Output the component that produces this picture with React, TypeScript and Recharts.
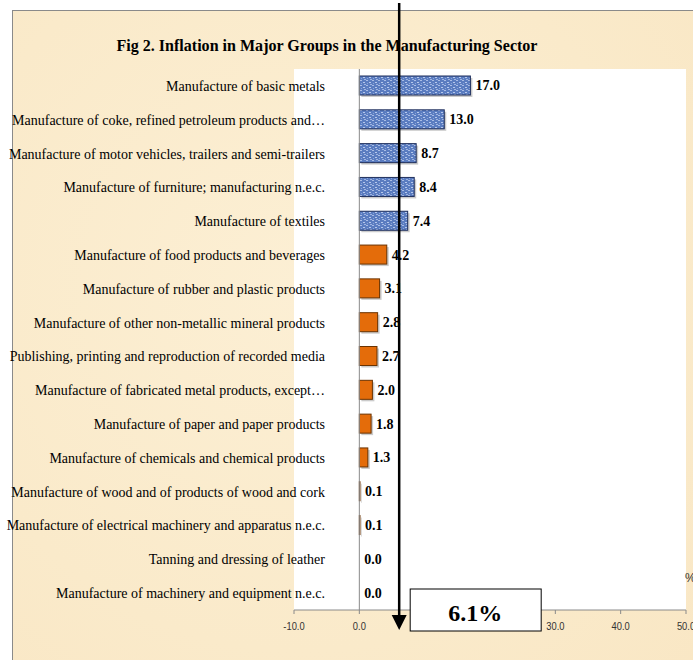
import React from 'react'
import {
  BarChart, Bar, XAxis, YAxis, CartesianGrid, ReferenceLine, LabelList,
} from 'recharts'

const categories = [
  'Manufacture of basic metals',
  'Manufacture of coke, refined petroleum products and…',
  'Manufacture of motor vehicles, trailers and semi-trailers',
  'Manufacture of furniture; manufacturing n.e.c.',
  'Manufacture of textiles',
  'Manufacture of food products and beverages',
  'Manufacture of rubber and plastic products',
  'Manufacture of other non-metallic mineral products',
  'Publishing, printing and reproduction of recorded media',
  'Manufacture of fabricated metal products, except…',
  'Manufacture of paper and paper products',
  'Manufacture of chemicals and chemical products',
  'Manufacture of wood and of products of wood and cork',
  'Manufacture of electrical machinery and apparatus n.e.c.',
  'Tanning and dressing of leather',
  'Manufacture of machinery and equipment n.e.c.',
]
const values = [17.0, 13.0, 8.7, 8.4, 7.4, 4.2, 3.1, 2.8, 2.7, 2.0, 1.8, 1.3, 0.1, 0.1, 0.0, 0.0]
// above-average groups are blue, the rest orange
const aboveAverage = [true, true, true, true, true, false, false, false, false, false, false, false, false, false, false, false]
const xTicks = [-10, 0, 10, 20, 30, 40, 50]
const average = 6.1
const title = 'Fig 2. Inflation in Major Groups in the Manufacturing Sector'

const data = categories.map((name, i) => ({ name, value: values[i], high: aboveAverage[i] }))

const serif = "'Liberation Serif', 'Times New Roman', serif"
const narrow = "'Liberation Sans Narrow', 'Liberation Sans', Arial, sans-serif"

function CatTick(props: any) {
  const { x, y, payload } = props
  return (
    <text x={x + 31} y={y} textAnchor="end" dy={5} fontFamily={serif} fontSize={14} fill="#000">
      {payload.value}
    </text>
  )
}

function NumTick(props: any) {
  const { x, y, payload } = props
  return (
    <g transform={`translate(${x},${y})`}>
      <text transform="scale(0.85,1)" textAnchor="middle" dy={14} fontFamily={narrow} fontSize={11} fill="#333">
        {payload.value.toFixed(1)}
      </text>
    </g>
  )
}

function BarShape(props: any) {
  const { x, y, width, height, payload } = props
  if (!width || width <= 0) return <g />
  const hi = payload.high
  return (
    <g>
      <rect x={x + 2} y={y + 2} width={width} height={height} fill="#a0a0a0" opacity={0.55} />
      <rect
        x={x} y={y} width={width} height={height}
        fill={hi ? 'url(#blueTex)' : '#E46C0A'}
        stroke={hi ? '#1f2f5c' : '#6b3300'}
        strokeWidth={1}
      />
    </g>
  )
}

function AverageArrow(props: any) {
  const { x1, y1, y2 } = props
  const x = x1
  const plotTop = Math.min(y1, y2)
  const plotBottom = Math.max(y1, y2)
  const top = plotTop - 66
  const tip = plotBottom + 20
  return (
    <g>
      <line x1={x} y1={top} x2={x} y2={tip - 14} stroke="#000" strokeWidth={2.5} />
      <polygon points={`${x - 7.5},${tip - 15} ${x + 7.5},${tip - 15} ${x},${tip}`} fill="#000" />
      <rect x={x + 11} y={plotBottom - 21} width={131} height={42} fill="#fff" stroke="#000" strokeWidth={1} />
      <text x={x + 76} y={plotBottom + 11} textAnchor="middle" fontFamily={serif} fontWeight="bold" fontSize={24} fill="#000">
        {average.toFixed(1)}%
      </text>
    </g>
  )
}

export default function App() {
  return (
    <div style={{ position: 'absolute', left: 0, top: 0, width: 693, height: 660, background: '#fff', overflow: 'hidden' }}>
      <svg width={0} height={0} style={{ position: 'absolute' }}>
        <defs>
          <pattern id="blueTex" width={6} height={5} patternUnits="userSpaceOnUse">
            <rect width={6} height={5} fill="#5a7cc0" />
            <rect x={0} y={0} width={2} height={1} fill="#a9bde6" />
            <rect x={3} y={2} width={2} height={1} fill="#b6c8ec" />
            <rect x={1} y={3} width={1} height={1} fill="#8aa4d8" />
            <rect x={4} y={4} width={2} height={1} fill="#9fb4e2" />
          </pattern>
        </defs>
      </svg>
      {/* parchment frame */}
      <div style={{
        position: 'absolute', left: 12, top: 10, width: 720, height: 700,
        border: '1px solid #8a8a8a', boxSizing: 'border-box',
        background: 'radial-gradient(circle at 40% 40%, #fcefd4 0%, #faeaca 60%, #f9e6c3 100%)',
      }} />
      <svg width={693} height={660} style={{ position: 'absolute', left: 0, top: 0 }}>
        <text x={327} y={51} textAnchor="middle" fontFamily={serif} fontWeight="bold" fontSize={17}
          textLength={421} lengthAdjust="spacingAndGlyphs" fill="#000">
          {title}
        </text>
      </svg>
      <div style={{ position: 'absolute', left: 0, top: 0 }}>
        <BarChart
          width={693}
          height={660}
          data={data}
          layout="vertical"
          margin={{ top: 69, right: 7, bottom: 20, left: 12 }}
          barSize={19}
        >
          <CartesianGrid horizontal={false} vertical={false} fill="#fff" fillOpacity={1} stroke="none" />
          <XAxis
            type="number"
            domain={[-10, 50]}
            ticks={xTicks}
            interval={0}
            tick={<NumTick />}
            tickSize={4}
            tickLine={{ stroke: '#8a8a8a' }}
            axisLine={{ stroke: '#8a8a8a' }}
            height={30}
          />
          <YAxis
            type="category"
            dataKey="name"
            width={282}
            interval={0}
            tick={<CatTick />}
            tickSize={0}
            tickMargin={0}
            tickLine={false}
            axisLine={false}
          />
          <ReferenceLine x={0} stroke="#8a8a8a" strokeWidth={1} />
          <Bar dataKey="value" shape={<BarShape />} isAnimationActive={false}>
            <LabelList
              dataKey="value"
              position="right"
              offset={5}
              formatter={(v: any) => Number(v).toFixed(1)}
              style={{ fontFamily: serif, fontWeight: 'bold', fontSize: 14, fill: '#000' }}
            />
          </Bar>
          <ReferenceLine x={average} ifOverflow="visible" shape={<AverageArrow />} zIndex={2000} />
        </BarChart>
      </div>
      <svg width={693} height={660} style={{ position: 'absolute', left: 0, top: 0, pointerEvents: 'none' }}>
        <text x={685} y={582} textAnchor="start" fontFamily={narrow} fontSize={12} fill="#333">%</text>
      </svg>
    </div>
  )
}
